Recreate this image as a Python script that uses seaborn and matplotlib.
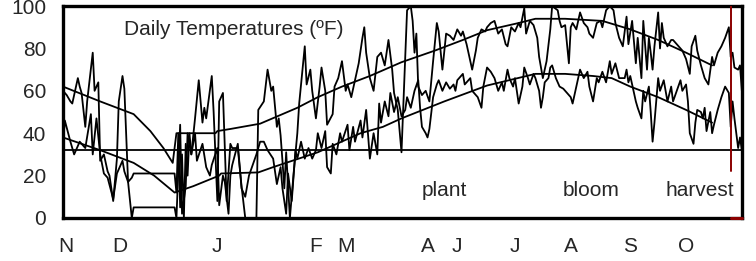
import matplotlib
matplotlib.use("Agg")
import matplotlib.pyplot as plt
import seaborn as sns

# days counted from Nov 1 (0) to Oct 31 (365)
hi_day = [0, 2, 4, 5, 8, 9, 10, 12, 13, 16, 17, 19, 20, 22, 24, 25, 27, 29, 30, 32, 33, 35, 37, 38, 60, 61,
          63, 64, 66, 67, 69, 71, 73, 75, 76, 77, 80, 81, 83, 84, 86, 88, 90, 91, 94, 96, 98, 104, 105, 108,
          110, 112, 113, 115, 116, 117, 118, 119, 120, 122, 124, 126, 127, 130, 131, 133, 134, 136, 138, 139,
          141, 142, 145, 146, 148, 150, 152, 153, 155, 157, 159, 161, 162, 163, 165, 167, 169, 171, 173, 174,
          175, 177, 178, 180, 182, 184, 185, 187, 188, 189, 190, 191, 193, 195, 197, 199, 201, 202, 204, 206,
          208, 210, 212, 214, 215, 217, 219, 220, 222, 223, 225, 227, 228, 230, 232, 234, 236, 238, 239, 241,
          243, 245, 246, 248, 249, 251, 253, 255, 256, 258, 260, 262, 263, 266, 267, 268, 270, 272, 273, 274,
          276, 278, 280, 282, 283, 285, 287, 289, 290, 292, 294, 296, 297, 299, 301, 303, 304, 306, 308, 309,
          311, 312, 314, 315, 316, 317, 318, 320, 321, 322, 323, 325, 327, 328, 330, 332, 333, 335, 337, 338,
          340, 341, 343, 345, 347, 349, 350, 352, 354, 356, 358, 359, 360, 361, 363, 364, 365]
hi_val = [60, 58, 55, 54, 66, 62, 59, 43, 55, 78, 60, 64, 27, 30, 22, 20, 8, 28, 55, 67, 61, 17, 0, 5, 5, 0,
          44, 2, 15, 40, 30, 47, 65, 45, 52, 47, 67, 50, 8, 55, 59, 8, 35, 33, 33, 15, 0, 0, 51, 55,
          70, 60, 62, 43, 47, 39, 27, 14, 31, 0, 21, 40, 54, 81, 63, 70, 60, 47, 62, 71,
          60, 44, 49, 62, 66, 74, 60, 63, 57, 65, 73, 85, 90, 78, 66, 60, 76, 78, 72, 78,
          84, 70, 59, 51, 31, 76, 98, 100, 93, 78, 87, 62, 58, 60, 55, 74, 92, 88, 70, 87,
          86, 84, 89, 86, 88, 82, 74, 70, 79, 85, 89, 88, 90, 92, 93, 87, 89, 82, 81, 90,
          88, 92, 90, 99, 87, 93, 91, 85, 76, 66, 74, 89, 100, 98, 93, 90, 91, 73, 90, 92,
          89, 97, 92, 90, 87, 85, 92, 93, 90, 98, 100, 98, 92, 85, 81, 95, 82, 93, 73, 85,
          66, 93, 70, 85, 78, 70, 81, 97, 80, 92, 85, 81, 84, 84, 82, 80, 79, 75, 68, 81,
          86, 79, 72, 66, 63, 76, 72, 78, 81, 85, 90, 76, 78, 71, 70, 72, 60]

lo_day = [0, 1, 4, 6, 9, 12, 15, 16, 18, 20, 22, 24, 27, 29, 32, 33, 35, 37, 38, 60, 61, 62, 63, 64, 65, 66,
          67, 68, 69, 71, 72, 75, 77, 79, 80, 83, 84, 86, 87, 89, 90, 91, 94, 96, 98, 100, 102, 104, 106, 108,
          110, 113, 115, 117, 118, 120, 121, 123, 125, 126, 128, 130, 132, 134, 136, 137, 139, 141, 142, 144,
          145, 147, 149, 150, 153, 154, 156, 157, 160, 161, 163, 165, 167, 169, 170, 171, 173, 175, 176, 178,
          180, 182, 184, 185, 187, 189, 191, 192, 193, 195, 196, 197, 199, 201, 202, 204, 206, 208, 210, 211,
          212, 215, 216, 219, 220, 223, 225, 226, 228, 230, 232, 234, 236, 237, 239, 240, 242, 243, 245, 247,
          248, 250, 251, 253, 254, 256, 257, 258, 259, 261, 262, 263, 265, 267, 269, 271, 273, 274, 276, 278,
          280, 282, 283, 285, 287, 288, 290, 292, 294, 295, 297, 299, 302, 303, 304, 305, 308, 309, 311, 312,
          313, 315, 316, 317, 318, 320, 321, 323, 325, 327, 328, 330, 332, 333, 335, 336, 337, 339, 340, 341,
          343, 344, 345, 346, 348, 349, 350, 352, 354, 356, 358, 359, 360, 361, 363, 364, 365]
lo_val = [35, 46, 36, 30, 36, 33, 49, 30, 47, 30, 21, 19, 9, 21, 27, 22, 17, 19, 21, 21, 12, 40, 5, 30, 0, 35,
          20, 40, 30, 40, 27, 35, 24, 20, 25, 33, 6, 20, 17, 2, 20, 25, 35, 14, 10, 20, 25, 30, 36, 36,
          32, 28, 16, 24, 14, 2, 21, 8, 32, 28, 36, 28, 33, 28, 32, 40, 33, 41, 24, 21,
          35, 30, 40, 36, 44, 32, 43, 36, 46, 38, 51, 28, 40, 30, 54, 45, 55, 48, 59, 50,
          57, 48, 51, 57, 52, 60, 65, 52, 43, 40, 38, 42, 57, 63, 65, 60, 64, 61, 63, 60,
          65, 68, 63, 66, 60, 57, 52, 62, 71, 69, 66, 60, 64, 60, 70, 66, 62, 66, 54, 62,
          71, 66, 63, 68, 66, 60, 52, 57, 64, 66, 71, 72, 66, 62, 61, 59, 57, 54, 62, 70,
          66, 69, 62, 55, 66, 64, 69, 64, 74, 68, 73, 66, 66, 70, 64, 67, 55, 52, 47, 60,
          55, 62, 50, 36, 45, 66, 60, 65, 55, 62, 55, 60, 65, 60, 63, 55, 40, 35, 45, 51,
          50, 47, 52, 41, 50, 40, 44, 51, 57, 62, 59, 43, 55, 47, 33, 38, 32]

# normal high / low
nh_day = [0, 20, 38, 47, 54, 59, 61, 82, 83, 90, 106, 126, 137, 150, 165, 182, 200, 215, 228, 245, 254,
          270, 290, 305, 320, 335, 349]
nh_val = [62, 55, 49, 41, 33, 26, 40, 40, 41, 42, 44.5, 52, 57, 62, 67, 73.5, 79, 84, 88.6, 92, 94,
          94, 93, 89, 84, 78, 72]
nl_day = [0, 20, 38, 49, 60, 70, 84, 85, 105, 113, 137, 160, 172, 182, 205, 228, 254, 270, 285, 295,
          305, 320, 335, 349]
nl_val = [38, 32, 26, 20, 12, 15, 20, 21, 21.5, 24, 31, 40, 43, 47, 55, 62.5, 68, 68, 67, 66,
          62, 57, 51, 45]

freeze = 32
harvest_day = 359
month_ticks = [0, 30, 92, 120, 151, 181, 212, 242, 273, 304, 334, 365]
label_pos = [1.6, 30.6, 83, 136, 152, 196, 212, 243, 273, 305, 335]
month_labels = ["N", "D", "J", "F", "M", "A", "J", "J", "A", "S", "O"]
stages = ["plant", "bloom", "harvest"]
stage_pos = [205, 284, 342.5]

sns.set_style("white")
plt.rcParams["font.family"] = ["Liberation Sans", "DejaVu Sans"]

fig = plt.figure(figsize=(7.56, 2.61), dpi=100)
ax = fig.add_axes([0.0833, 0.1648, 0.898, 0.812])

lw = 1.3
sns.lineplot(x=hi_day, y=hi_val, color="black", lw=lw, estimator=None, sort=False, ax=ax)
sns.lineplot(x=lo_day, y=lo_val, color="black", lw=lw, estimator=None, sort=False, ax=ax)
sns.lineplot(x=nh_day, y=nh_val, color="black", lw=lw, estimator=None, sort=False, ax=ax)
sns.lineplot(x=nl_day, y=nl_val, color="black", lw=lw, estimator=None, sort=False, ax=ax)
ax.axhline(freeze, color="black", lw=lw)
ax.axvline(harvest_day, ymin=0.22, ymax=1.0, color="#8b0000", lw=1.4, zorder=3)
ax.axhline(0, xmin=harvest_day / 365, xmax=1.0, color="#8b0000", lw=2.2, zorder=6, clip_on=False)

ax.set_xlim(0, 365)
ax.set_ylim(0, 100)
ax.set_yticks(range(0, 101, 20))
ax.tick_params(axis="y", direction="in", length=5, width=1.5, labelsize=15, pad=12)
ax.set_xticks(label_pos)
ax.set_xticklabels(month_labels)
ax.set_xticks(month_ticks, minor=True)
ax.tick_params(axis="x", which="major", length=0, labelsize=15, pad=14)
ax.tick_params(axis="x", which="minor", direction="out", length=6, width=1.5)
ax.set_xlabel("")
ax.set_ylabel("")
for s in ax.spines.values():
    s.set_visible(True)
    s.set_linewidth(2.4)
    s.set_color("black")

ax.text(92, 89, "Daily Temperatures (ºF)", fontsize=15, ha="center", va="center")
for name, pos in zip(stages, stage_pos):
    ax.text(pos, 12.8, name, fontsize=15, ha="center", va="center", zorder=5,
            bbox=dict(facecolor="white", edgecolor="none", pad=1))

fig.savefig("out.png", dpi=100)
